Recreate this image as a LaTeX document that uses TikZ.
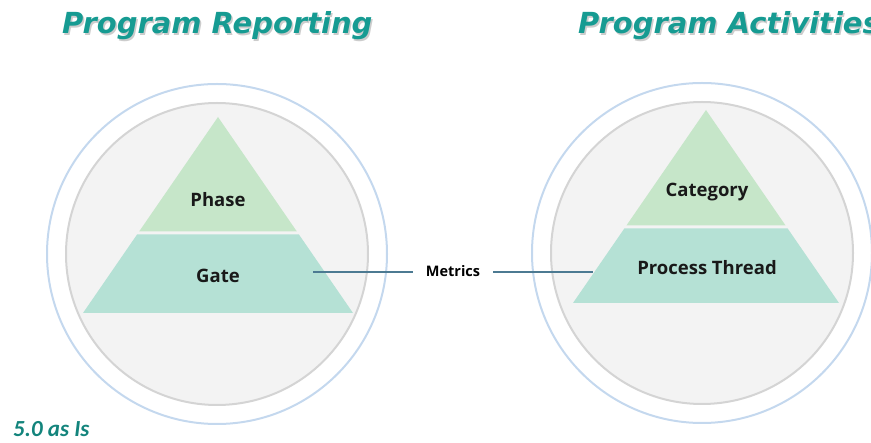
\documentclass[tikz,border=0pt]{standalone}
\usepackage{fontspec}
\newfontfamily\headfont{DejaVu Sans}
\newfontfamily\tierfont{Open Sans}
\newfontfamily\notefont{Carlito}

\definecolor{headteal}{RGB}{22,155,146}
\definecolor{ringblue}{RGB}{196,216,238}
\definecolor{ringgray}{RGB}{212,212,212}
\definecolor{discgray}{RGB}{243,243,243}
\definecolor{tiertop}{RGB}{198,230,201}
\definecolor{tierbase}{RGB}{181,225,213}
\definecolor{linkblue}{RGB}{76,122,146}

\tikzset{
  head/.style={font=\headfont\bfseries\itshape\fontsize{29}{32}\selectfont, anchor=base west, inner sep=0pt},
  tierlabel/.style={font=\tierfont\bfseries\fontsize{18.5}{20}\selectfont, text=black!90},
}

\begin{document}
\begin{tikzpicture}[x=1pt, y=-1pt, line join=round]
        \useasboundingbox (0,0) rectangle (871,443);
        \coordinate (lc) at (217,254);
        \coordinate (rc) at (702,253);
        % outer ring and grey disc
        \foreach \c in {lc, rc} {
            \draw[ringblue, line width=2pt] (\c) circle[radius=170pt];
            \draw[ringgray, fill=discgray, line width=2pt] (\c) circle[radius=151pt];
        }
        % two-tier pyramids: apex x/y, base y, half base, split y
        \foreach \ax/\ay/\by/\hw/\dy in {218/117/313/135/233, 706/110/303/133/227} {
            \pgfmathsetmacro{\ta}{\hw*(\dy-1.5-\ay)/(\by-\ay)}
            \pgfmathsetmacro{\tb}{\hw*(\dy+1.5-\ay)/(\by-\ay)}
            \fill[tiertop] (\ax,\ay) -- (\ax+\ta,\dy-1.5) -- (\ax-\ta,\dy-1.5) -- cycle;
            \fill[tierbase] (\ax-\tb,\dy+1.5) -- (\ax+\tb,\dy+1.5) -- (\ax+\hw,\by) -- (\ax-\hw,\by) -- cycle;
        }
        \node[tierlabel] (phase)    at (218,200) {Phase};
        \node[tierlabel] (gate)     at (218,276) {Gate};
        \node[tierlabel] (category) at (707,192) {Category};
        \node[tierlabel] (thread)   at (707,268) {Process Thread};
        % metrics link between the lower tiers
        \node[font=\tierfont\bfseries\fontsize{14.5}{16}\selectfont, inner xsep=13pt] (metrics) at (453,271) {Metrics};
        \coordinate (gate-out)  at (313,272);
        \coordinate (thread-in) at (593,272);
        \draw[linkblue, line width=1.5pt] (gate-out) -- (metrics.west |- gate-out);
        \draw[linkblue, line width=1.5pt] (metrics.east |- thread-in) -- (thread-in);
        % headings with a soft drop shadow
        \node[head, text=gray!40] at (63.5,35.5) {Program Reporting};
        \node[head, text=headteal] (reporting) at (62,34) {Program Reporting};
        \node[head, text=gray!40] at (579.5,35.5) {Program Activities};
        \node[head, text=headteal] (activities) at (578,34) {Program Activities};
        \node[font=\notefont\bfseries\itshape\fontsize{23}{26}\selectfont, text=headteal!85!black, anchor=base west, inner sep=0pt] (asis) at (13,437) {5.0 as Is};
\end{tikzpicture}
\end{document}
